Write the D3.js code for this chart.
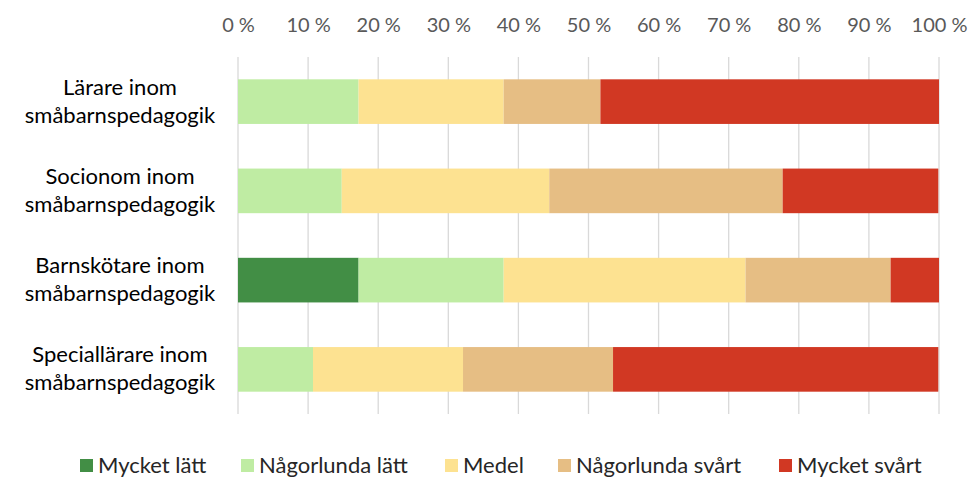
<!DOCTYPE html>
<html>
<head>
<meta charset="utf-8">
<script src="https://cdn.jsdelivr.net/npm/d3@7"></script>
<style>
  body { margin: 0; background: #fff; }
  svg { font-family: Lato, "Open Sans", sans-serif; }
</style>
</head>
<body>
<div id="chart"></div>
<script>
const categories = [
  ["Lärare inom", "småbarnspedagogik"],
  ["Socionom inom", "småbarnspedagogik"],
  ["Barnskötare inom", "småbarnspedagogik"],
  ["Speciallärare inom", "småbarnspedagogik"]
];
const seriesNames = ["Mycket lätt", "Någorlunda lätt", "Medel", "Någorlunda svårt", "Mycket svårt"];
const mycketLatt     = [0, 0, 17.2, 0];
const nagorlundaLatt = [17.2, 14.8, 20.7, 10.7];
const medel          = [20.7, 29.6, 34.5, 21.4];
const nagorlundaSvart = [13.8, 33.3, 20.7, 21.4];
const mycketSvart    = [48.3, 22.2, 6.9, 46.4];
const xTicks = [0, 10, 20, 30, 40, 50, 60, 70, 80, 90, 100];
const colors = ["#428e45", "#bfeca3", "#fde291", "#e6be84", "#d13823"];

const width = 971, height = 477;
const svg = d3.select("#chart").append("svg").attr("width", width).attr("height", height);

const x = d3.scaleLinear().domain([0, 100]).range([238, 939]);
const y = d3.scaleBand().domain(d3.range(categories.length)).range([57, 414]).paddingInner(0.5).paddingOuter(0.25);

// gridlines
svg.append("g").selectAll("line").data(xTicks).join("line")
  .attr("x1", d => x(d)).attr("x2", d => x(d))
  .attr("y1", 57).attr("y2", 414)
  .attr("stroke", "#d9d9d9").attr("stroke-width", 1.3);

// top axis labels
const axis = svg.append("g").attr("transform", "translate(0,32)")
  .call(d3.axisTop(x).tickValues(xTicks).tickFormat(d => d + " %").tickSize(0).tickPadding(0));
axis.select(".domain").remove();
axis.selectAll("text").attr("fill", "#595959").attr("font-size", 20).attr("font-family", "Lato, sans-serif");

// stacked bars
const rows = categories.map((c, i) => ({
  i, values: [mycketLatt[i], nagorlundaLatt[i], medel[i], nagorlundaSvart[i], mycketSvart[i]]
}));
const stack = d3.stack().keys(d3.range(seriesNames.length)).value((d, k) => d.values[k]);
const layers = stack(rows);

svg.append("g").selectAll("g").data(layers).join("g")
  .attr("fill", (d, k) => colors[k])
  .selectAll("rect").data(d => d).join("rect")
  .attr("x", d => x(d[0]))
  .attr("width", d => Math.max(0, x(d[1]) - x(d[0])))
  .attr("y", d => y(d.data.i))
  .attr("height", y.bandwidth());

// category labels
const labels = svg.append("g").selectAll("text").data(categories).join("text")
  .attr("text-anchor", "middle")
  .attr("font-size", 22)
  .attr("fill", "#000");
labels.each(function (d, i) {
  const t = d3.select(this);
  const cy = y(i) + y.bandwidth() / 2;
  d.forEach((line, j) => {
    t.append("tspan").attr("x", 120).attr("y", cy - 7 + j * 28).text(line);
  });
});

// legend
const legendX = [80, 241, 445, 558, 779];
const legend = svg.append("g").selectAll("g").data(seriesNames).join("g")
  .attr("transform", (d, k) => `translate(${legendX[k]},459)`);
legend.append("rect").attr("width", 13).attr("height", 13).attr("fill", (d, k) => colors[k]);
legend.append("text").attr("x", 18).attr("y", 14).attr("font-size", 22).attr("fill", "#262626").text(d => d);
</script>
</body>
</html>
